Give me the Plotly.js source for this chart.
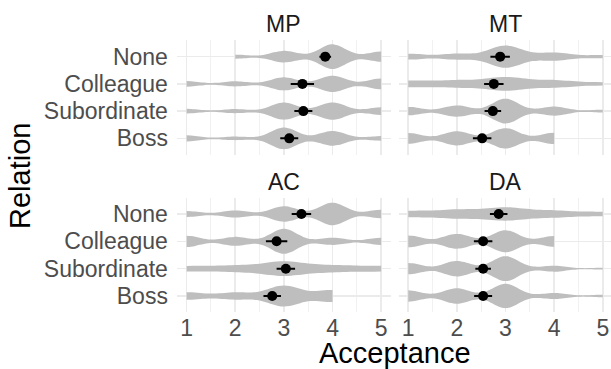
<!DOCTYPE html>
<html><head><meta charset="utf-8">
<script src="https://cdn.plot.ly/plotly-3.0.1.min.js"></script>
<style>html,body{margin:0;padding:0;background:#fff;overflow:hidden}</style>
</head><body><div id="chart" style="width:611px;height:369px"></div>
<script>
// ---- data ----
const relations = ['None', 'Colleague', 'Subordinate', 'Boss'];
const panels = ['MP', 'MT', 'AC', 'DA'];
const scoreLevels = [1, 2, 3, 4, 5];
const xTicks = [1, 2, 3, 4, 5];
// number of responses at each score level (1..5), rows in the order of `relations`
const countsMP = [[0, 8, 23, 49, 20], [11, 10, 26, 32, 21], [9, 8, 34, 34, 15], [12, 7, 43, 29, 9]];
const countsMT = [[13, 13, 49, 18, 7], [18, 19, 36, 19, 8], [15, 20, 44, 16, 5], [19, 25, 36, 20, 0]];
const countsAC = [[10, 12, 26, 38, 14], [19, 15, 42, 12, 12], [14, 16, 38, 17, 15], [16, 15, 44, 25, 0]];
const countsDA = [[16, 22, 34, 17, 11], [20, 25, 37, 18, 0], [19, 26, 42, 10, 3], [19, 26, 41, 10, 4]];
// mean acceptance and interval half-width, same order as `relations`
const meanMP = [3.85, 3.38, 3.40, 3.11];
const errMP = [0.12, 0.24, 0.185, 0.185];
const meanMT = [2.89, 2.76, 2.74, 2.52];
const errMT = [0.20, 0.20, 0.17, 0.19];
const meanAC = [3.36, 2.85, 3.04, 2.76];
const errAC = [0.20, 0.22, 0.19, 0.18];
const meanDA = [2.86, 2.54, 2.54, 2.54];
const errDA = [0.18, 0.19, 0.16, 0.185];

const counts = {MP: countsMP, MT: countsMT, AC: countsAC, DA: countsDA};
const means = {MP: meanMP, MT: meanMT, AC: meanAC, DA: meanDA};
const errs = {MP: errMP, MT: errMT, AC: errAC, DA: errDA};

// ---- helpers ----
function expand(cnt) {
  const out = [];
  cnt.forEach((c, i) => { for (let k = 0; k < c; k++) out.push(scoreLevels[i]); });
  return out;
}
function nrd0(x) { // R's default bandwidth, as used by ggplot2
  const n = x.length;
  const s = x.slice().sort((a, b) => a - b);
  const m = s.reduce((a, b) => a + b, 0) / n;
  const sd = Math.sqrt(s.reduce((a, b) => a + (b - m) * (b - m), 0) / (n - 1));
  const q = p => { const h = (n - 1) * p, lo = Math.floor(h); return s[lo] + (h - lo) * (s[Math.min(lo + 1, n - 1)] - s[lo]); };
  let lo = Math.min(sd, (q(0.75) - q(0.25)) / 1.34);
  if (!lo) lo = sd || 1;
  return 0.9 * lo * Math.pow(n, -0.2);
}

const FONT = 'Liberation Sans, Arial, Helvetica, sans-serif';
const axisSuffix = {MP: '', MT: '2', AC: '3', DA: '4'};
const traces = [];
panels.forEach(p => {
  const sfx = axisSuffix[p];
  relations.forEach((r, i) => {
    const xs = expand(counts[p][i]);
    traces.push({
      type: 'violin', orientation: 'h',
      x: xs, y: xs.map(() => r),
      xaxis: 'x' + sfx, yaxis: 'y' + sfx,
      scalegroup: p, scalemode: 'width', spanmode: 'hard',
      bandwidth: nrd0(xs),
      fillcolor: '#BEBEBE', line: {color: '#BEBEBE', width: 0},
      points: false, box: {visible: false}, meanline: {visible: false},
      hoverinfo: 'skip', showlegend: false
    });
  });
});
panels.forEach(p => {
  const sfx = axisSuffix[p];
  traces.push({
    type: 'scatter', mode: 'markers',
    x: means[p], y: relations,
    xaxis: 'x' + sfx, yaxis: 'y' + sfx,
    marker: {color: '#000', size: 10},
    error_x: {type: 'data', array: errs[p], color: '#000', thickness: 2, width: 0},
    hoverinfo: 'skip', showlegend: false
  });
});

const W = 611, H = 369;
const leftDom = [176.9 / W, 390.9 / W];
const rightDom = [398.5 / W, 1];
const pxPerUnit = 214 / 4.4;
const leftRange = [0.8, 5.2];
const rightRange = [0.8, 0.8 + (W - 398.5) / pxPerUnit];
const topDom = [1 - 154.7 / H, 1 - 40.3 / H];
const botDom = [1 - 312.4 / H, 1 - 197.6 / H];

function xax(dom, rng, anchor, labels) {
  return {domain: dom, range: rng, anchor: anchor, tickmode: 'array', tickvals: xTicks, ticktext: xTicks.map(String),
    showticklabels: labels, ticks: '', showgrid: true, gridcolor: '#EBEBEB', gridwidth: 1.6,
    minor: {dtick: 0.5, tick0: 0.5, showgrid: true, gridcolor: '#EFEFEF', gridwidth: 0.9},
    zeroline: false, showline: false, fixedrange: true, automargin: false,
    tickfont: {family: FONT, size: 23, color: '#4D4D4D'}};
}
function yax(dom, anchor, labels) {
  return {domain: dom, anchor: anchor, type: 'category', categoryorder: 'array',
    categoryarray: relations.slice().reverse(), range: [-0.6, 3.6],
    tickmode: 'array', tickvals: relations, ticktext: relations,
    showticklabels: labels, ticks: '', ticklabelstandoff: 8, showgrid: true, gridcolor: '#EBEBEB', gridwidth: 1.6,
    zeroline: false, showline: false, fixedrange: true, automargin: false,
    tickfont: {family: FONT, size: 23, color: '#4D4D4D'}};
}

const annotations = [];
[['MP', 'x', 24.5], ['MT', 'x2', 24.5], ['AC', 'x3', 181.5], ['DA', 'x4', 181.5]].forEach(a => {
  annotations.push({text: a[0], xref: a[1], x: 3, yref: 'paper', y: 1 - a[2] / H, xanchor: 'center', yanchor: 'middle',
    showarrow: false, font: {family: FONT, size: 23, color: '#1A1A1A'}});
});
annotations.push({text: 'Acceptance', xref: 'paper', yref: 'paper', x: 394.7 / W, y: 1 - 353 / H,
  xanchor: 'center', yanchor: 'middle', showarrow: false, font: {family: FONT, size: 29, color: '#000'}});
annotations.push({text: 'Relation', xref: 'paper', yref: 'paper', x: 20 / W, y: 1 - 176 / H, textangle: -90,
  xanchor: 'center', yanchor: 'middle', showarrow: false, font: {family: FONT, size: 29, color: '#000'}});

const layout = {
  width: W, height: H, margin: {l: 0, r: 0, t: 0, b: 0},
  paper_bgcolor: '#fff', plot_bgcolor: '#fff',
  violinmode: 'overlay', violingap: 0.1, violingroupgap: 0,
  font: {family: FONT},
  xaxis: xax(leftDom, leftRange, 'y', false),
  xaxis2: xax(rightDom, rightRange, 'y2', false),
  xaxis3: xax(leftDom, leftRange, 'y3', true),
  xaxis4: xax(rightDom, rightRange, 'y4', true),
  yaxis: yax(topDom, 'x', true),
  yaxis2: yax(topDom, 'x2', false),
  yaxis3: yax(botDom, 'x3', true),
  yaxis4: yax(botDom, 'x4', false),
  annotations: annotations
};
Plotly.newPlot('chart', traces, layout, {staticPlot: true, displayModeBar: false});
</script></body></html>
